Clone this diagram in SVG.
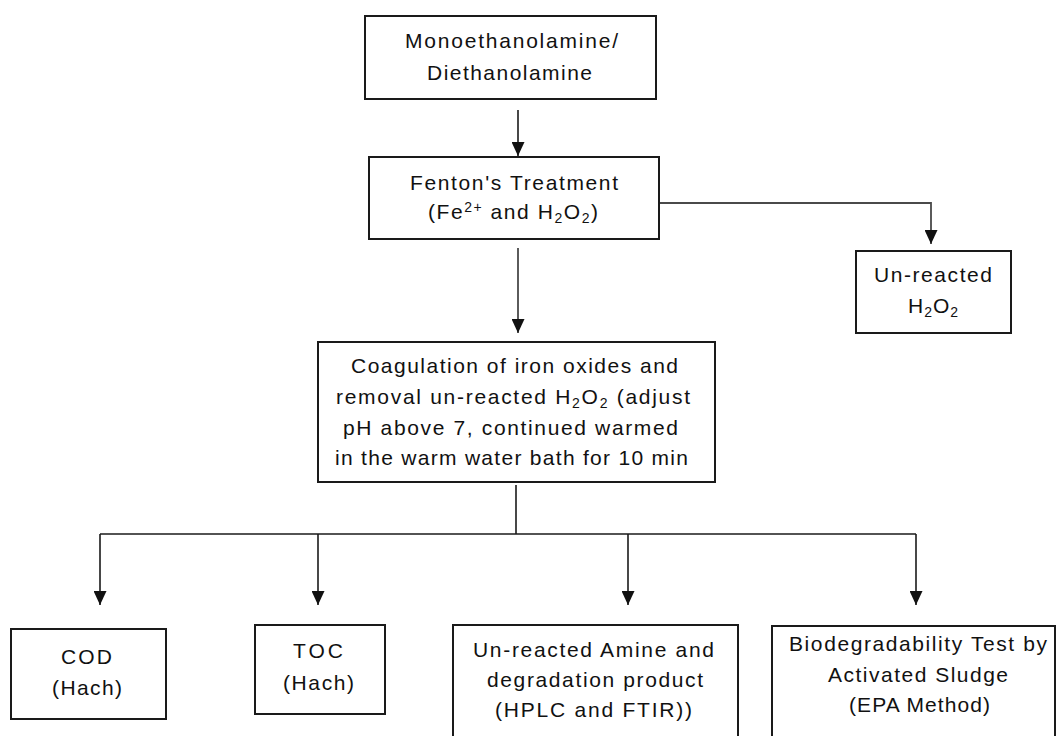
<svg xmlns="http://www.w3.org/2000/svg" width="1057" height="736" viewBox="0 0 1057 736">
  <style>
    .box { fill: #ffffff; stroke: #1a1a1a; stroke-width: 2; }
    .lbl { font-family: "Liberation Sans", Arial, sans-serif; font-size: 21px; fill: #111111; text-anchor: middle; }
    .sm { font-size: 14px; }
    .conn { fill: none; stroke: #1a1a1a; stroke-width: 1.6; }
    .conn-g { fill: none; stroke: #4a4a4a; stroke-width: 1.8; }
  </style>
  <defs>
    <marker id="arr" markerUnits="userSpaceOnUse" markerWidth="14" markerHeight="13" refX="14" refY="6.5" orient="auto">
      <path d="M0,0 L14,6.5 L0,13 z" fill="#111111"/>
    </marker>
  </defs>
  <rect width="1057" height="736" fill="#ffffff"/>

  <g id="connectors">
    <line class="conn" x1="518" y1="110" x2="518" y2="156" marker-end="url(#arr)"/>
    <polyline class="conn-g" points="659,203 931,203 931,244" marker-end="url(#arr)"/>
    <line class="conn-g" x1="518" y1="248" x2="518" y2="333" marker-end="url(#arr)"/>
    <line class="conn" x1="516" y1="485" x2="516" y2="534"/>
    <line class="conn" x1="100" y1="534" x2="916" y2="534"/>
    <line class="conn" x1="100" y1="534" x2="100" y2="605" marker-end="url(#arr)"/>
    <line class="conn" x1="318" y1="534" x2="318" y2="605" marker-end="url(#arr)"/>
    <line class="conn" x1="628" y1="534" x2="628" y2="605" marker-end="url(#arr)"/>
    <line class="conn" x1="916" y1="534" x2="916" y2="605" marker-end="url(#arr)"/>
  </g>

  <g id="node-amine">
    <rect class="box" x="365" y="16" width="291" height="83"/>
    <text class="lbl" x="511.5" y="48" textLength="213" lengthAdjust="spacing">Monoethanolamine/</text>
    <text class="lbl" x="509.5" y="80" textLength="165" lengthAdjust="spacing">Diethanolamine</text>
  </g>

  <g id="node-fenton">
    <rect class="box" x="369" y="157" width="290" height="82"/>
    <text class="lbl" x="514" y="190" textLength="208" lengthAdjust="spacing">Fenton's Treatment</text>
    <text class="lbl" x="513" y="219" textLength="170" lengthAdjust="spacing">(Fe<tspan class="sm" dy="-7">2+</tspan><tspan dy="7"> and H</tspan><tspan class="sm" dy="4">2</tspan><tspan dy="-4">O</tspan><tspan class="sm" dy="4">2</tspan><tspan dy="-4">)</tspan></text>
  </g>

  <g id="node-unreacted-h2o2">
    <rect class="box" x="856" y="251" width="155" height="82"/>
    <text class="lbl" x="933" y="282" textLength="118" lengthAdjust="spacing">Un-reacted</text>
    <text class="lbl" x="933" y="313" textLength="50" lengthAdjust="spacing">H<tspan class="sm" dy="4">2</tspan><tspan dy="-4">O</tspan><tspan class="sm" dy="4">2</tspan></text>
  </g>

  <g id="node-coagulation">
    <rect class="box" x="318" y="342" width="397" height="140"/>
    <text class="lbl" x="514.5" y="373" textLength="327" lengthAdjust="spacing">Coagulation of iron oxides and</text>
    <text class="lbl" x="513" y="404" textLength="354" lengthAdjust="spacing">removal un-reacted H<tspan class="sm" dy="4">2</tspan><tspan dy="-4">O</tspan><tspan class="sm" dy="4">2</tspan><tspan dy="-4"> (adjust</tspan></text>
    <text class="lbl" x="510.5" y="435" textLength="335" lengthAdjust="spacing">pH above 7, continued warmed</text>
    <text class="lbl" x="511.5" y="465" textLength="353" lengthAdjust="spacing">in the warm water bath for 10 min</text>
  </g>

  <g id="node-cod">
    <rect class="box" x="11" y="629" width="155" height="90"/>
    <text class="lbl" x="86.5" y="664" textLength="51" lengthAdjust="spacing">COD</text>
    <text class="lbl" x="87" y="695" textLength="70" lengthAdjust="spacing">(Hach)</text>
  </g>

  <g id="node-toc">
    <rect class="box" x="255" y="625" width="130" height="89"/>
    <text class="lbl" x="318" y="658" textLength="50" lengthAdjust="spacing">TOC</text>
    <text class="lbl" x="318.5" y="690" textLength="71" lengthAdjust="spacing">(Hach)</text>
  </g>

  <g id="node-unreacted-amine">
    <rect class="box" x="453" y="625" width="285" height="130"/>
    <text class="lbl" x="593.5" y="657" textLength="241" lengthAdjust="spacing">Un-reacted Amine and</text>
    <text class="lbl" x="595" y="687" textLength="216" lengthAdjust="spacing">degradation product</text>
    <text class="lbl" x="593.5" y="717" textLength="197" lengthAdjust="spacing">(HPLC and FTIR))</text>
  </g>

  <g id="node-biodegradability">
    <rect class="box" x="772" y="626" width="283" height="130"/>
    <text class="lbl" x="918" y="651" textLength="258" lengthAdjust="spacing">Biodegradability Test by</text>
    <text class="lbl" x="918" y="682" textLength="180" lengthAdjust="spacing">Activated Sludge</text>
    <text class="lbl" x="919.5" y="712" textLength="141" lengthAdjust="spacing">(EPA Method)</text>
  </g>
</svg>
